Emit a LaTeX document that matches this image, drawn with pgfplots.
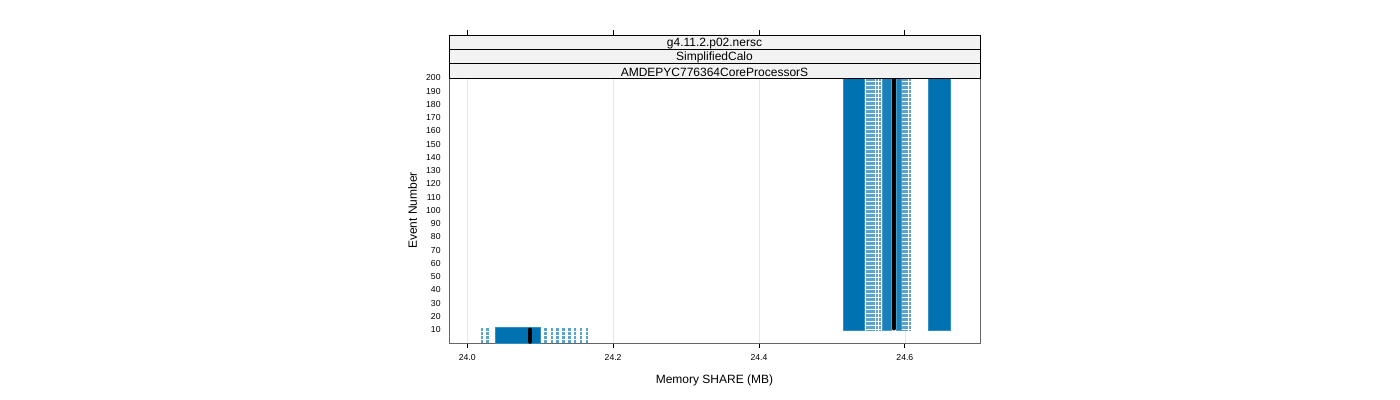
\documentclass[border=0pt]{standalone}
\usepackage{fontspec}
\setmainfont{Liberation Sans}
\usepackage{pgfplots}
\pgfplotsset{compat=1.18}
\definecolor{latblue}{HTML}{0072B2}
\definecolor{stripbg}{HTML}{F2F2F2}
\begin{document}
\begin{tikzpicture}
\useasboundingbox (0,0) rectangle (1050pt,300pt);
\begin{axis}[
    name=ax,
    at={(336.75pt,42.75pt)}, anchor=south west,
    width=398.25pt, height=198.75pt, scale only axis,
    xmin=23.975, xmax=24.703, ymin=0, ymax=200,
    xtick={24.0,24.2,24.4,24.6},
    xticklabels={24.0,24.2,24.4,24.6},
    ytick={10,20,...,200},
    tick align=outside, xtick pos=bottom, ytick pos=left,
    major tick length=3.75pt,
    ytick style={draw=none},
    xtick style={black, line width=0.6pt},
    xmajorgrids, grid style={black!10, line width=0.5pt},
    axis line style={black!60, line width=0.75pt},
    tick label style={font=\fontsize{6.5}{7}\selectfont},
    xticklabel style={yshift=-1pt},
    yticklabel style={xshift=1pt},
    label style={font=\fontsize{9}{10}\selectfont},
    xlabel style={yshift=-4pt},
    xlabel={Memory SHARE (MB)}, ylabel={Event Number},
    clip mode=individual,
    /pgf/number format/assume math mode=true,
]
% dense regions (overlapping open circles)
\addplot[fill=latblue, draw=latblue!80!white, line width=0.5pt] coordinates {(24.038,0) (24.100,0) (24.100,11.5) (24.038,11.5)} -- cycle;
\addplot[fill=latblue, draw=latblue!80!white, line width=0.5pt] coordinates {(24.5155,9.5) (24.545,9.5) (24.545,200) (24.5155,200)} -- cycle;
\addplot[fill=latblue!90!white, draw=latblue!70!white, line width=0.5pt] coordinates {(24.569,9.5) (24.582,9.5) (24.582,200) (24.569,200)} -- cycle;
\addplot[fill=latblue!90!white, draw=latblue!70!white, line width=0.5pt] coordinates {(24.588,9.5) (24.595,9.5) (24.595,200) (24.588,200)} -- cycle;
\addplot[fill=latblue, draw=latblue!80!white, line width=0.5pt] coordinates {(24.632,9.5) (24.662,9.5) (24.662,200) (24.632,200)} -- cycle;
% single columns of circles
\addplot[draw=latblue!65!white, line width=1.9pt, dash pattern=on 0.6pt off 0.4pt, unbounded coords=jump] coordinates {
    (24.020,0) (24.020,11.5) (24.020,nan)
    (24.028,0) (24.028,11.5) (24.028,nan)
    (24.107,0) (24.107,11.5) (24.107,nan)
    (24.116,0) (24.116,11.5) (24.116,nan)
    (24.124,0) (24.124,11.5) (24.124,nan)
    (24.132,0) (24.132,11.5) (24.132,nan)
    (24.140,0) (24.140,11.5) (24.140,nan)
    (24.148,0) (24.148,11.5) (24.148,nan)
    (24.156,0) (24.156,11.5) (24.156,nan)
    (24.164,0) (24.164,11.5) (24.164,nan)
    (24.549,9.5) (24.549,200) (24.549,nan)
    (24.553,9.5) (24.553,200) (24.553,nan)
    (24.557,9.5) (24.557,200) (24.557,nan)
    (24.562,9.5) (24.562,200) (24.562,nan)
    (24.566,9.5) (24.566,200) (24.566,nan)
    (24.598,9.5) (24.598,200) (24.598,nan)
    (24.602,9.5) (24.602,200) (24.602,nan)
    (24.607,9.5) (24.607,200)
};
% mean per event
\addplot[draw=black, line width=3.2pt, line cap=round, unbounded coords=jump] coordinates {
    (24.086,1) (24.086,10) (24.086,nan)
    (24.585,11) (24.585,199)
};
% strips
\draw[fill=stripbg, draw=black, line width=0.6pt] (rel axis cs:0,1) rectangle (rel axis cs:1,1.054);
\draw[fill=stripbg, draw=black, line width=0.6pt] (rel axis cs:0,1.054) rectangle (rel axis cs:1,1.108);
\draw[fill=stripbg, draw=black, line width=0.6pt] (rel axis cs:0,1.108) rectangle (rel axis cs:1,1.162);
\node[font=\fontsize{9}{10}\selectfont, yshift=-0.8pt] at (rel axis cs:0.5,1.027) {AMDEPYC776364CoreProcessorS};
\node[font=\fontsize{9}{10}\selectfont, yshift=-0.8pt] at (rel axis cs:0.5,1.081) {SimplifiedCalo};
\node[font=\fontsize{9}{10}\selectfont, yshift=-0.8pt] at (rel axis cs:0.5,1.135) {g4.11.2.p02.nersc};
\pgfplotsinvokeforeach{24.0,24.2,24.4,24.6}{
  \draw[black, line width=0.6pt] (axis cs:#1,232.4) -- (axis cs:#1,236.2);
}
\end{axis}
\end{tikzpicture}
\end{document}
